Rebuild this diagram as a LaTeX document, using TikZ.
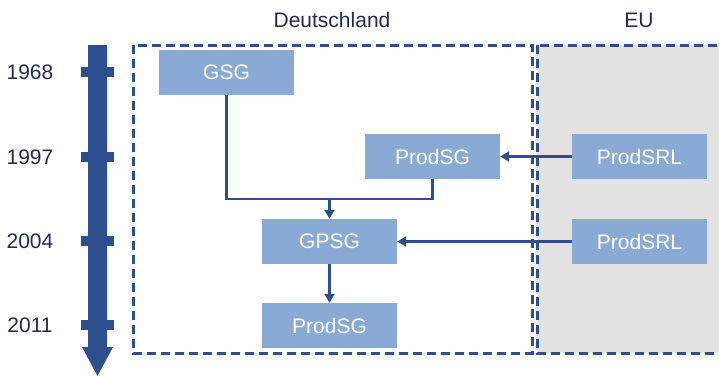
\documentclass[tikz,border=0pt]{standalone}
\usepackage{fontspec}
\setmainfont{Liberation Sans}
\usetikzlibrary{arrows.meta}
\definecolor{dblue}{HTML}{2E4F8E}
\definecolor{lblue}{HTML}{8AAAD6}
\definecolor{navy}{HTML}{1F2B52}
\definecolor{egray}{HTML}{E2E2E2}
\tikzset{
  lawbox/.style={fill=lblue, text=white, minimum width=135pt, minimum height=45pt, inner sep=0pt, font=\fontsize{21pt}{24pt}\selectfont},
  label text/.style={text=navy, inner sep=0pt, font=\fontsize{21pt}{24pt}\selectfont},
  region/.style={draw=dblue, line width=3pt, dash pattern=on 9pt off 5pt},
  conn/.style={draw=dblue, line width=2.8pt},
  arr/.style={conn, -{Triangle[length=9pt,width=10pt]}}
}
\begin{document}
\begin{tikzpicture}[x=1pt,y=-1pt]
\useasboundingbox (0,0) rectangle (719,376);
% regions
\fill[egray] (537,45) rectangle (725,353);
\draw[region] (537,45) rectangle (725,353);
\draw[region] (133,45) rectangle (532,353);
\node[label text] (de) at (332,20) {Deutschland};
\node[label text] (eu) at (639,20) {EU};
% timeline
\fill[dblue] (88,45) -- (107,45) -- (107,347) -- (113,347) -- (97.5,376) -- (82,347) -- (88,347) -- cycle;
\foreach \y/\yr in {72/1968,157/1997,241/2004,325/2011}{
  \fill[dblue] (81,\y-5) rectangle (114,\y+5);
  \node[label text] at (30,\y) {\yr};
}
% boxes
\node[lawbox] (gsg) at (226.5,72.5) {GSG};
\node[lawbox] (prodsgA) at (432.5,156.5) {ProdSG};
\node[lawbox] (gpsg) at (329.5,241.5) {GPSG};
\node[lawbox] (prodsgB) at (329.5,325.5) {ProdSG};
\node[lawbox] (srlA) at (639.5,156.5) {ProdSRL};
\node[lawbox] (srlB) at (639.5,241.5) {ProdSRL};
% connectors
\coordinate (j) at (329.5,199);
\draw[conn] (gsg.south) -- (gsg.south |- j) -- (prodsgA.south |- j) -- (prodsgA.south);
\draw[arr] (j) -- (gpsg.north);
\draw[arr] (gpsg.south) -- (prodsgB.north);
\draw[arr] (srlA.west) -- (prodsgA.east);
\draw[arr] (srlB.west) -- (gpsg.east);
\end{tikzpicture}
\end{document}
